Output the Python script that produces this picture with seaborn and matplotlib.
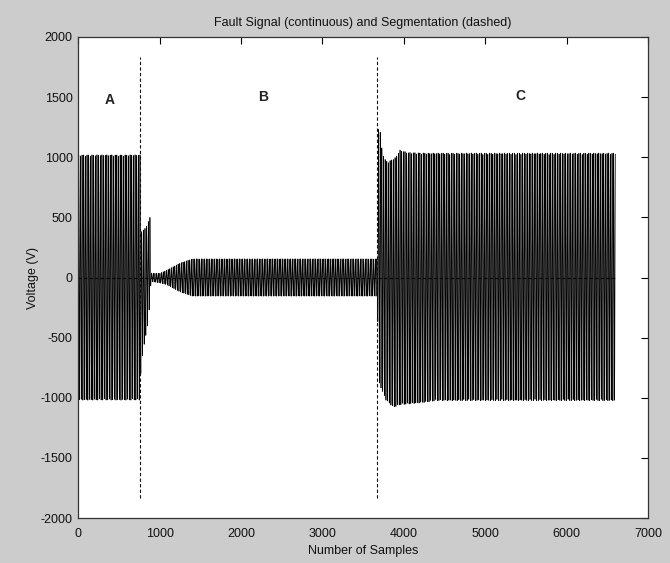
import numpy as np
import pandas as pd
import matplotlib
matplotlib.use("Agg")
import matplotlib.pyplot as plt
import seaborn as sns

# ---- data ----
n_samples = 6600
carrier_period = 20.35  # samples per cycle of the waveform

# upper (positive peak) envelope breakpoints
upper_x = [0, 759, 770, 830, 880, 893, 905, 1000, 1085, 1250, 1400, 3674, 3688,
           3705, 3725, 3760, 3800, 3900, 3950, 4050, 4300, 6600]
upper_v = [1020, 1020, 380, 415, 500, 40, 35, 35, 60, 120, 155, 155, 1240,
           1240, 1090, 990, 960, 1000, 1060, 1040, 1035, 1035]
# lower (negative peak) envelope breakpoints
lower_x = [0, 759, 770, 805, 860, 893, 905, 1000, 1085, 1250, 1400, 3674, 3690,
           3780, 3870, 3950, 4250, 4400, 6600]
lower_v = [-1020, -1020, -750, -570, -370, -40, -35, -45, -60, -120, -155, -155, -870,
           -1020, -1080, -1060, -1040, -1025, -1025]

segment_bounds = [760, 3675]
segment_extent = [-1830, 1830]
zero_line_x = [0, 6600]
zero_line_y = [0, 0]
segment_names = ["A", "B", "C"]
segment_label_x = [380, 2265, 5430]
segment_label_y = [1476, 1503, 1508]

x_ticks = [0, 1000, 2000, 3000, 4000, 5000, 6000, 7000]
y_ticks = [-2000, -1500, -1000, -500, 0, 500, 1000, 1500, 2000]

# ---- build the waveform ----
samples = np.arange(n_samples)
up = np.interp(samples, upper_x, upper_v)
lo = np.interp(samples, lower_x, lower_v)
signal = (up + lo) / 2 + (up - lo) / 2 * np.sin(2 * np.pi * samples / carrier_period)
df = pd.DataFrame({"sample": samples, "voltage": signal})

sns.set_style("white")
plt.rcParams["font.family"] = ["Liberation Sans", "DejaVu Sans"]
plt.rcParams["axes.unicode_minus"] = False

fig = plt.figure(figsize=(6.7, 5.63), dpi=100, facecolor="#cccccc")
ax = fig.add_axes([0.1169, 0.0799, 0.8503, 0.8544])
ax.set_facecolor("white")

sns.lineplot(data=df, x="sample", y="voltage", ax=ax, color="black",
             linewidth=0.5, estimator=None, sort=False)
ax.vlines(segment_bounds, segment_extent[0], segment_extent[1], colors="#111111",
          linestyles=(0, (3, 2)), linewidth=0.8)
ax.plot(zero_line_x, zero_line_y, color="black", linestyle=(0, (3, 2)), linewidth=0.8)

for name, lx, ly in zip(segment_names, segment_label_x, segment_label_y):
    ax.text(lx, ly, name, ha="center", va="center", fontsize=10,
            fontweight="bold", color="#222222")

ax.set_xlim(0, 7000)
ax.set_ylim(-2000, 2000)
ax.set_xticks(x_ticks)
ax.set_yticks(y_ticks)
ax.tick_params(direction="in", length=5, width=0.8, top=True, right=True,
               labelsize=9, colors="black", labelcolor="#111111")
ax.tick_params(axis="x", pad=7)
ax.tick_params(axis="y", pad=4)
for s in ax.spines.values():
    s.set_color("#333333")
    s.set_linewidth(0.9)
ax.set_xlabel("Number of Samples", fontsize=9, color="#111111", labelpad=4)
ax.set_ylabel("Voltage (V)", fontsize=9, color="#111111", labelpad=1)
ax.set_title("Fault Signal (continuous) and Segmentation (dashed)", fontsize=9,
             color="#111111", pad=8)

fig.savefig("out.png", dpi=100, facecolor=fig.get_facecolor())
